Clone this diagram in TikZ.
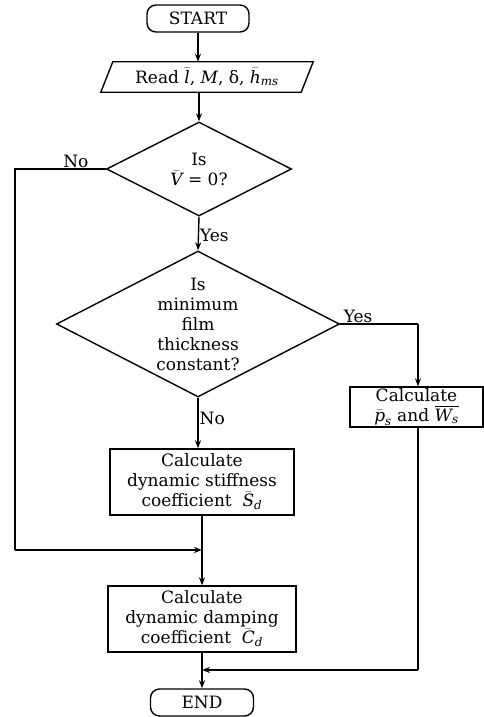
\documentclass[tikz,border=0pt]{standalone}
\usepackage{amsmath}
\usepackage{fontspec}
\setmainfont{DejaVu Serif}
\usetikzlibrary{shapes.geometric,arrows.meta}
\newcommand{\myit}[1]{\text{\itshape #1}}
\begin{document}
\begin{tikzpicture}[x=1pt,y=-1pt,
  every node/.style={font=\fontsize{17}{20}\selectfont},
  line/.style={line width=1.4pt},
  arr/.style={line width=1.4pt,-{Stealth[length=8pt,width=6pt]}},
  term/.style={draw,line width=1.4pt,rounded corners=9pt,inner sep=0pt},
  box/.style={draw,line width=1.4pt,align=center,inner sep=0pt},
  dia/.style={draw,line width=1.4pt,diamond,inner sep=0pt},
  lbl/.style={inner sep=1pt}]
\useasboundingbox (0,0) rectangle (484,717);
\node[term,minimum width=102pt,minimum height=27pt] (start) at (198,18.5) {START};
\node[inner sep=0pt,minimum width=200pt,minimum height=30pt] (read) at (207,77) {Read $\bar{\myit{l}}$, \myit{M}, δ, $\bar{\myit{h}}_{\myit{ms}}$};
\draw[line] ([xshift=6pt]read.north west) -- ([xshift=6pt]read.north east) -- ([xshift=-6pt]read.south east) -- ([xshift=-6pt]read.south west) -- cycle;
\node[dia,minimum width=185pt,minimum height=94pt] (d1) at (199,169) {};
\node[align=center] (t1) at (d1) {Is\\$\bar{\myit{V}}$ = 0?};
\node[dia,minimum width=283pt,minimum height=146pt] (d2) at (198,324) {};
\node[align=center] (t2) at (d2) {Is\\minimum\\film\\thickness\\constant?};
\node[box,minimum width=133pt,minimum height=40pt] (ps) at (416.5,407) {Calculate\\$\bar{\myit{p}}_{\myit{s}}$ and $\overline{\myit{W}_{\myit{s}}}$};
\node[box,minimum width=184pt,minimum height=66pt] (sd) at (202,482) {Calculate\\dynamic stiffness\\coefficient\ \ $\bar{\myit{S}}_{\myit{d}}$};
\node[box,minimum width=188pt,minimum height=66pt] (cd) at (202,619) {Calculate\\dynamic damping\\coefficient\ \ $\bar{\myit{C}}_{\myit{d}}$};
\node[term,minimum width=103pt,minimum height=27pt] (end) at (202,702.5) {END};
\coordinate (lc) at (15,550);
\coordinate (m1) at (sd.south |- lc);
\coordinate (rc) at (418,670);
\coordinate (m2) at (cd.south |- rc);
\draw[arr] (start.south) -- (start.south |- read.north);
\draw[arr] (d1.north |- read.south) -- (d1.north);
\draw[arr] (d1.south) -- node[lbl,right,pos=0.55] (yes1) {Yes} (d2.north);
\draw[line] (d1.west) -- node[lbl,above,pos=0.33] (no1) {No} (d1.west -| lc) -- (lc);
\draw[arr] (lc) -- (m1);
\draw[arr] (d2.south) -- node[lbl,right,pos=0.4] (no2) {No} (d2.south |- sd.north);
\draw[line] (d2.east) -- node[lbl,above,pos=0.23] (yes2) {Yes} (d2.east -| rc);
\draw[arr] (d2.east -| rc) -- (rc |- ps.north);
\draw[arr] (sd.south) -- (cd.north);
\draw[line] (rc |- ps.south) -- (rc);
\draw[arr] (rc) -- (m2);
\draw[arr] (cd.south) -- (end.north);
\end{tikzpicture}
\end{document}
